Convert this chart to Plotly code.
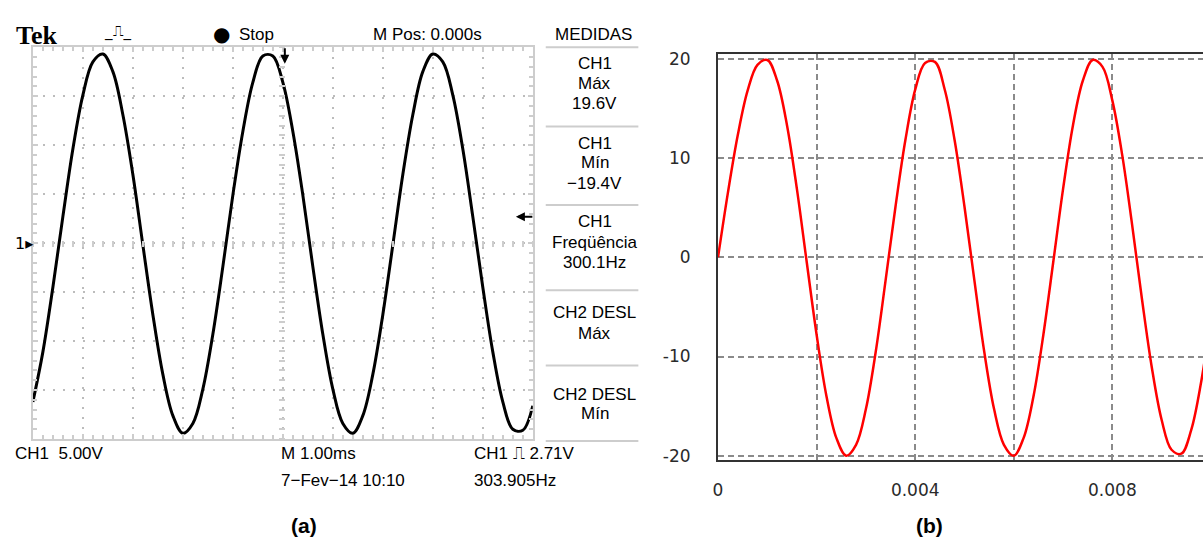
import plotly.graph_objects as go

W, H = 1203, 547

# ---------------- data ----------------
# (a) oscilloscope trace: time in ms (1 ms/div), voltage in V (5 V/div)
scope_t = [round(0.2 * i, 1) for i in range(51)]
scope_v = [-16.2, -11.1, -4.5, 2.7, 9.6, 15.1, 18.5, 19.3, 17.5, 13.1,
           7.0, -0.2, -7.3, -13.4, -17.6, -19.4, -18.4, -14.9, -9.3, -2.4,
           4.9, 11.4, 16.4, 19.1, 19.1, 16.4, 11.4, 4.9, -2.4, -9.3,
           -14.9, -18.4, -19.4, -17.6, -13.4, -7.3, -0.2, 7.0, 13.1, 17.5,
           19.3, 18.5, 15.1, 9.6, 2.7, -4.5, -11.1, -16.2, -19.0, -19.1,
           -16.6]

# (b) simulated waveform: time in s, voltage in V
sim_t = [round(0.0002 * i, 4) for i in range(51)]
sim_v = [0.0, 6.5, 12.3, 16.8, 19.4, 19.9, 17.8, 13.3, 6.9, -0.5,
         -7.8, -14.0, -18.2, -20.0, -18.9, -15.3, -9.5, -2.3, 5.1, 11.8,
         16.9, 19.6, 19.7, 16.9, 11.8, 5.1, -2.3, -9.5, -15.3, -18.9,
         -20.0, -18.2, -14.0, -7.8, -0.5, 6.9, 13.3, 17.8, 19.9, 19.2,
         15.8, 10.3, 3.3, -4.2, -11.1, -16.4, -19.4, -19.8, -17.4, -12.6,
         -6.0]

sim_xticks = [0, 0.002, 0.004, 0.006, 0.008]
sim_xlabels = ["0", "", "0.004", "", "0.008"]
sim_yticks = [-20, -10, 0, 10, 20]
sim_ylabels = ["-20", "-10", "0", "10", "20"]

# measurement panel text
meas_rows = [("CH1", 60), ("Máx", 80), ("19.6V", 101),
             ("CH1", 141), ("Mín", 161), ("−19.4V", 182),
             ("CH1", 221), ("Freqüência", 242), ("300.1Hz", 263),
             ("CH2 DESL", 314), ("Máx", 335),
             ("CH2 DESL", 397), ("Mín", 417)]
meas_lines = [43, 124, 204, 291, 368, 445]


def px(x):
    return x / W


def py(y):
    return 1 - y / H


SCOPE_FONT = "Liberation Sans, Arial, sans-serif"
GRID_GREY = "#bcbcbc"
BORDER_GREY = "#cdcdcd"

fig = go.Figure()

# scope trace
fig.add_trace(go.Scatter(x=scope_t, y=scope_v, mode="lines", xaxis="x", yaxis="y",
                         line=dict(color="black", width=3, shape="spline"),
                         hoverinfo="skip"))
# invisible helpers for the centre graticule tick rows
fig.add_trace(go.Scatter(x=scope_t, y=scope_v, mode="lines", xaxis="x3", yaxis="y",
                         line=dict(width=0), opacity=0, hoverinfo="skip"))
fig.add_trace(go.Scatter(x=scope_t, y=scope_v, mode="lines", xaxis="x", yaxis="y3",
                         line=dict(width=0), opacity=0, hoverinfo="skip"))
# simulation trace
fig.add_trace(go.Scatter(x=sim_t, y=sim_v, mode="lines", xaxis="x2", yaxis="y2",
                         line=dict(color="#ff0000", width=2.5, shape="spline"),
                         hoverinfo="skip"))

x_dom = [px(28), px(530)]
y_dom = [py(443), py(43)]

fig.update_layout(
    width=W, height=H,
    margin=dict(l=0, r=0, t=0, b=0),
    paper_bgcolor="white", plot_bgcolor="white",
    showlegend=False,
    xaxis=dict(domain=x_dom, range=[0, 10], dtick=1, showticklabels=False,
               showgrid=True, gridcolor=GRID_GREY, griddash="2px,8px", gridwidth=2,
               zeroline=False, showline=True, linecolor=BORDER_GREY, linewidth=2,
               mirror="ticks", ticks="inside", ticklen=5, tickcolor=BORDER_GREY, tickwidth=2,
               minor=dict(dtick=0.2, ticks="inside", ticklen=4, tickcolor=BORDER_GREY, tickwidth=2),
               anchor="y", fixedrange=True),
    yaxis=dict(domain=y_dom, range=[-20, 20], dtick=5, showticklabels=False,
               showgrid=True, gridcolor=GRID_GREY, griddash="2px,8px", gridwidth=2,
               zeroline=False, showline=True, linecolor=BORDER_GREY, linewidth=2,
               mirror="ticks", ticks="inside", ticklen=5, tickcolor=BORDER_GREY, tickwidth=2,
               minor=dict(dtick=1, ticks="inside", ticklen=4, tickcolor=BORDER_GREY, tickwidth=2),
               anchor="x", fixedrange=True),
    xaxis3=dict(overlaying="x", anchor="free", position=py(243) + 3 / H, side="bottom",
                range=[0, 10], dtick=0.2, ticks="outside", ticklen=6, tickwidth=2,
                tickcolor=BORDER_GREY, showticklabels=False, showgrid=False,
                zeroline=False, showline=False),
    yaxis3=dict(overlaying="y", anchor="free", position=px(278) + 3 / W, side="left",
                range=[-20, 20], dtick=1, ticks="outside", ticklen=6, tickwidth=2,
                tickcolor=BORDER_GREY, showticklabels=False, showgrid=False,
                zeroline=False, showline=False),
    xaxis2=dict(domain=[px(716), 1.0], range=[0, (1203 - 716) / 49500],
                tickvals=sim_xticks, ticktext=sim_xlabels, ticks="",
                ticklabelstandoff=14,
                tickfont=dict(family="DejaVu Sans, sans-serif", size=17, color="#2a2a2a"),
                showgrid=True, gridcolor="#8a8a8a", griddash="6px,4px", gridwidth=1.5,
                zeroline=False, showline=True, linecolor="#333333", linewidth=2,
                mirror=True, anchor="y2"),
    yaxis2=dict(domain=[py(464), py(50)], range=[-20.4, 20.5],
                tickvals=sim_yticks, ticktext=sim_ylabels, ticks="", ticklabelstandoff=22,
                tickfont=dict(family="DejaVu Sans, sans-serif", size=17, color="#2a2a2a"),
                showgrid=True, gridcolor="#8a8a8a", griddash="6px,4px", gridwidth=1.5,
                zeroline=False, showline=True, linecolor="#333333", linewidth=2,
                mirror=False, anchor="x2"),
)

ann = []


def text(t, x, y, size=17, xanchor="left", family=SCOPE_FONT, color="black"):
    ann.append(dict(text=t, x=px(x), y=py(y), xref="paper", yref="paper",
                    xanchor=xanchor, yanchor="middle", showarrow=False,
                    font=dict(family=family, size=size, color=color)))


def arrow(x, y, ax, ay):
    ann.append(dict(text="", x=px(x), y=py(y), xref="paper", yref="paper",
                    showarrow=True, ax=ax, ay=ay, arrowhead=2, arrowsize=0.9,
                    arrowwidth=2, arrowcolor="black"))


# header of scope
text("<b>Tek</b>", 9, 31, size=26, family="Liberation Serif, Times New Roman, serif")
text("_⎍_", 113, 27, size=15, xanchor="center", family="DejaVu Sans, sans-serif")
text("●", 217, 30, size=20, xanchor="center", family="DejaVu Sans, sans-serif")
text("Stop", 233, 30)
text("M Pos: 0.000s", 368, 30)
text("MEDIDAS", 591, 30, xanchor="center")
for t, yy in meas_rows:
    text(t, 592, yy, xanchor="center")

# markers
text("1▸", 8, 243, size=16, family="DejaVu Sans, sans-serif")
arrow(281, 60, 0, -17)
arrow(513, 216, 18, 0)

# footer of scope
text("CH1  5.00V", 8, 458)
text("M 1.00ms", 275, 458)
text("CH1 ⎍ 2.71V", 469, 458)
text("7−Fev−14 10:10", 275, 485)
text("303.905Hz", 469, 485)

# panel labels
text("<b>(a)</b>", 300, 531, size=21, xanchor="center", family="Liberation Sans, Arial, sans-serif")
text("<b>(b)</b>", 928, 531, size=21, xanchor="center", family="Liberation Sans, Arial, sans-serif")

fig.update_layout(annotations=ann)

shapes = []
for yy in meas_lines:
    shapes.append(dict(type="line", xref="paper", yref="paper",
                       x0=px(543), x1=px(636), y0=py(yy), y1=py(yy),
                       line=dict(color=BORDER_GREY, width=2)))
fig.update_layout(shapes=shapes)

fig.write_html("out.html",
               config={"displayModeBar": False},
               post_script="document.body.style.margin='0';document.body.style.overflow='hidden';")
